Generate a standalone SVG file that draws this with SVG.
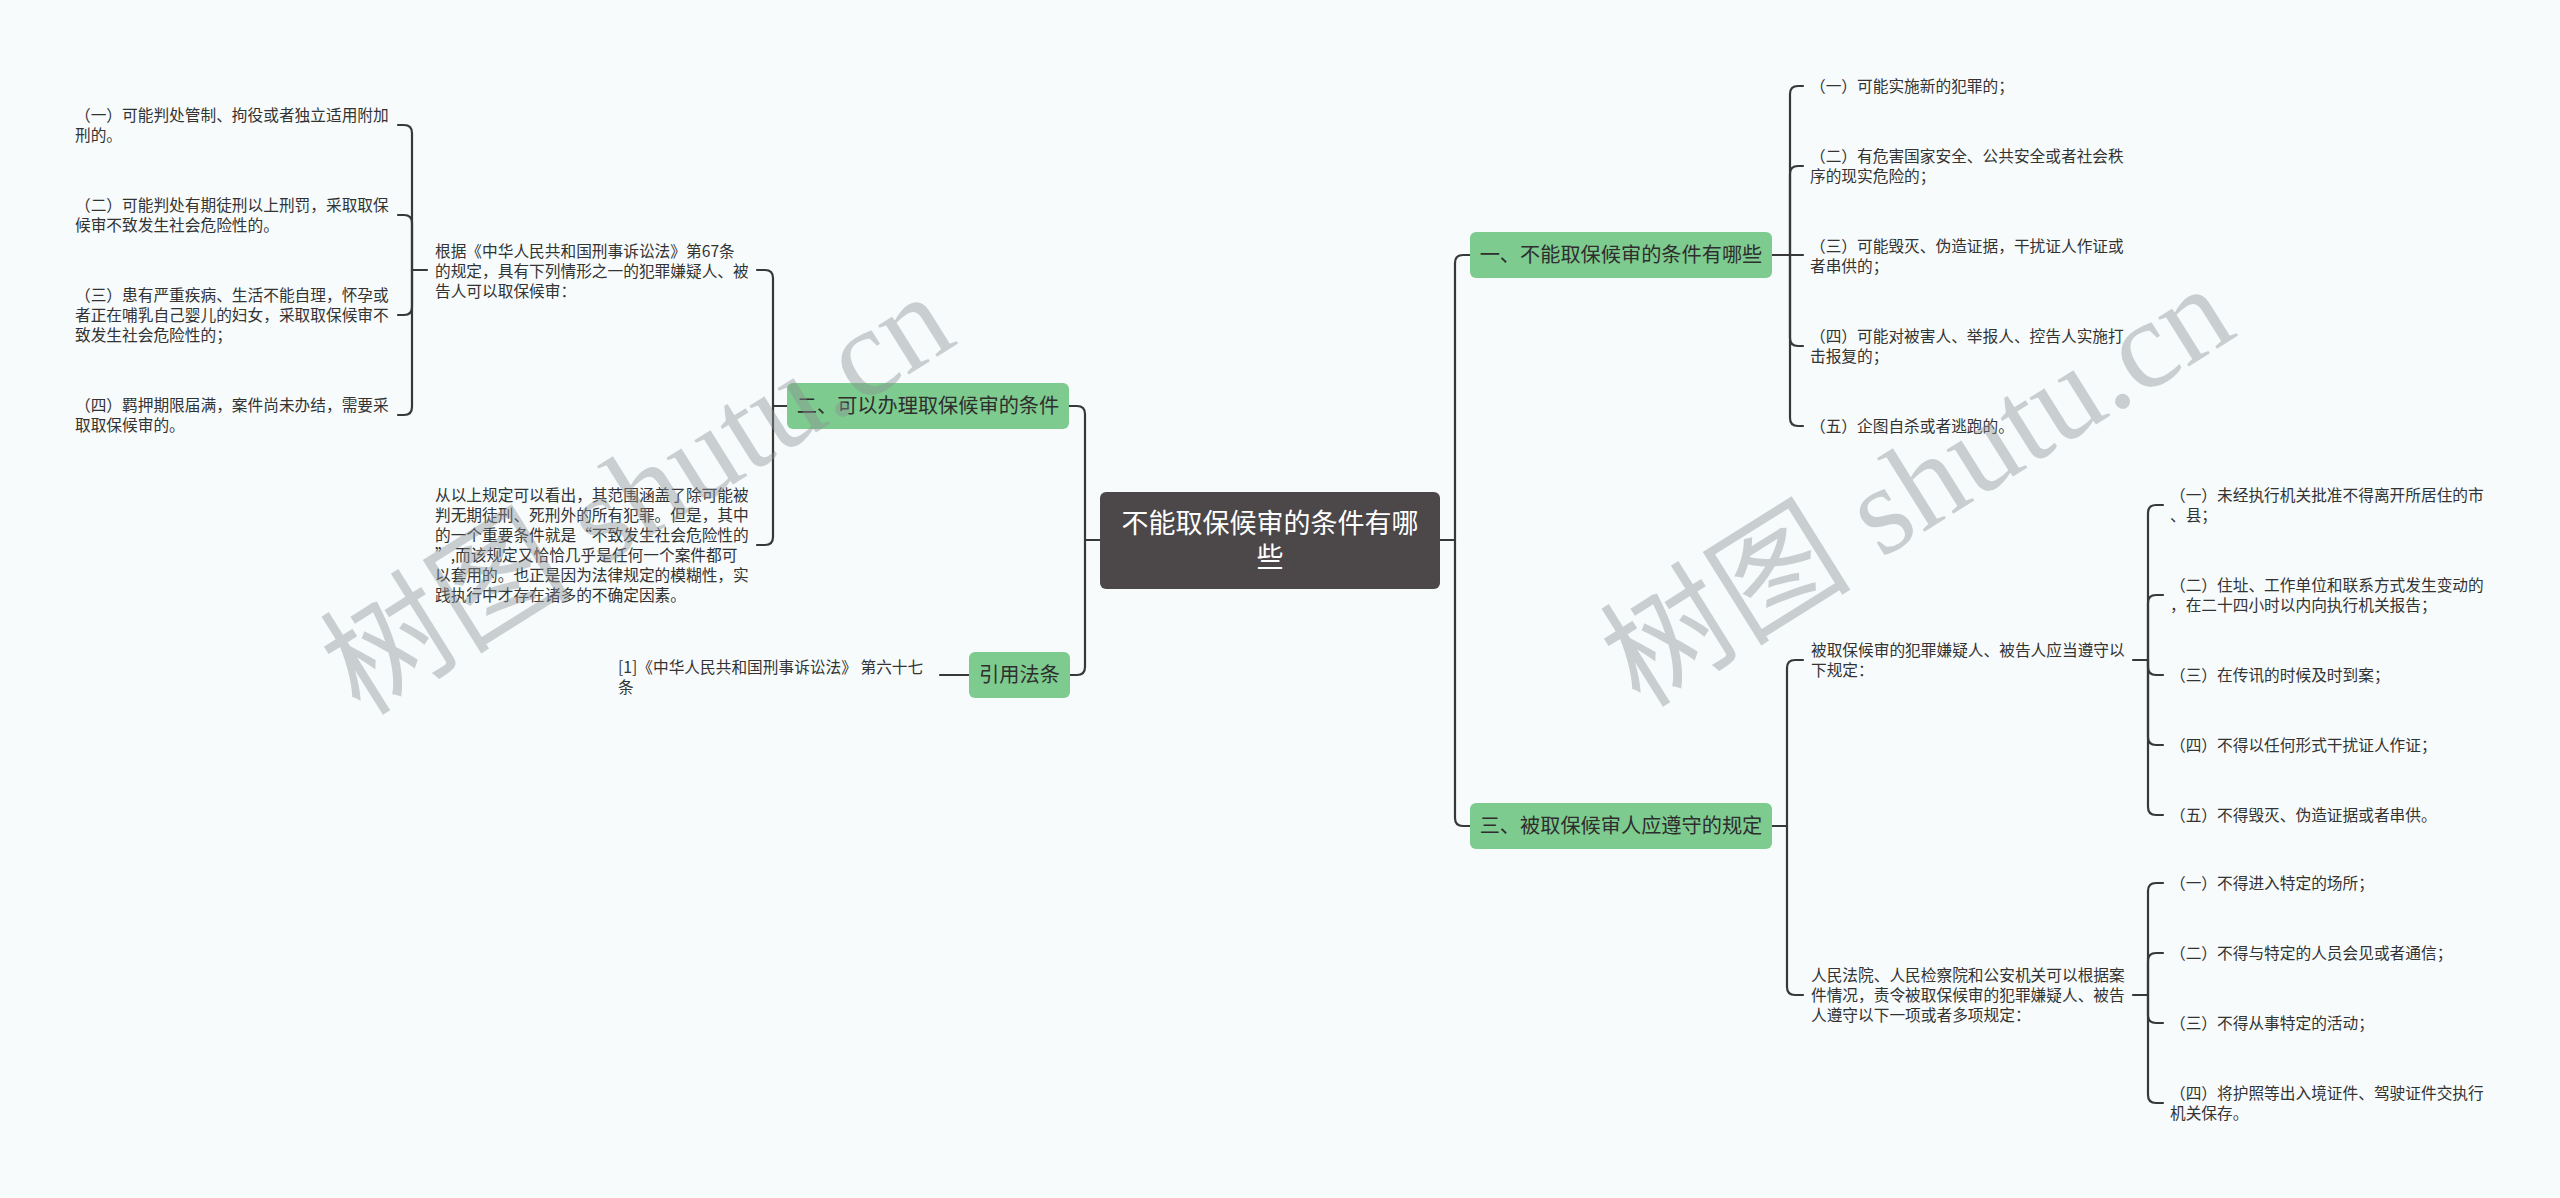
<svg xmlns="http://www.w3.org/2000/svg" width="2560" height="1198" viewBox="0 0 2560 1198">
<style>
.bg{fill:#f7fbfc}
.t{font-family:"Noto Sans CJK SC","Noto Sans",sans-serif;font-size:15.7px;fill:#333}
.g rect{fill:#7ecb8f}
.g text{font-family:"Noto Sans CJK SC","Noto Sans",sans-serif;font-size:20.2px;fill:#2e2e2e;text-anchor:middle}
.root rect{fill:#4c4748}
.root text{font-family:"Noto Sans CJK SC","Noto Sans",sans-serif;font-size:27px;fill:#ffffff;text-anchor:middle}
#connectors path{fill:none;stroke:#383838;stroke-width:2.2;stroke-linecap:round}
.wm{font-family:"Liberation Serif","Noto Sans CJK SC",serif;font-size:126px;fill:#8a9094;fill-opacity:0.42;text-anchor:middle}
</style>
<rect class="bg" x="0" y="0" width="2560" height="1198"/>
<g id="connectors">
<path d="M1100,540 H1085"/>
<path d="M1085,540 V414 Q1085,406 1077,406 H1069"/>
<path d="M1085,540 V667 Q1085,675 1077,675 H1070"/>
<path d="M787,406 H773"/>
<path d="M773,406 V278 Q773,270 765,270 H757"/>
<path d="M773,406 V537 Q773,545 765,545 H757"/>
<path d="M427,270 H412"/>
<path d="M412,270 V133 Q412,125 404,125 H398"/>
<path d="M412,270 V223 Q412,215 404,215 H398"/>
<path d="M412,270 V307 Q412,315 404,315 H398"/>
<path d="M412,270 V407 Q412,415 404,415 H398"/>
<path d="M969,675 H940"/>
<path d="M1440,540 H1455"/>
<path d="M1455,540 V263 Q1455,255 1463,255 H1470"/>
<path d="M1455,540 V818 Q1455,826 1463,826 H1470"/>
<path d="M1772,255 H1790"/>
<path d="M1790,255 V94 Q1790,86 1798,86 H1803"/>
<path d="M1790,255 V174 Q1790,166 1798,166 H1803"/>
<path d="M1790,255 H1803"/>
<path d="M1790,255 V338 Q1790,346 1798,346 H1803"/>
<path d="M1790,255 V418 Q1790,426 1798,426 H1803"/>
<path d="M1772,826 H1787"/>
<path d="M1787,826 V668 Q1787,660 1795,660 H1803"/>
<path d="M1787,826 V987 Q1787,995 1795,995 H1803"/>
<path d="M2133,660 H2148"/>
<path d="M2148,660 V513 Q2148,505 2156,505 H2163"/>
<path d="M2148,660 V603 Q2148,595 2156,595 H2163"/>
<path d="M2148,660 V667 Q2148,675 2156,675 H2163"/>
<path d="M2148,660 V737 Q2148,745 2156,745 H2163"/>
<path d="M2148,660 V807 Q2148,815 2156,815 H2163"/>
<path d="M2133,995 H2148"/>
<path d="M2148,995 V891 Q2148,883 2156,883 H2163"/>
<path d="M2148,995 V961 Q2148,953 2156,953 H2163"/>
<path d="M2148,995 V1015 Q2148,1023 2156,1023 H2163"/>
<path d="M2148,995 V1095 Q2148,1103 2156,1103 H2163"/>
</g>
<g id="node-root" class="root">
<rect x="1100" y="492" width="340" height="97" rx="6"/>
<text x="1270" y="533">不能取保候审的条件有哪</text>
<text x="1270" y="567">些</text>
</g>
<g id="node-1" class="g">
<rect x="1470" y="232" width="302" height="46" rx="6"/>
<text x="1621" y="262">一、不能取保候审的条件有哪些</text>
</g>
<g id="node-2" class="g">
<rect x="787" y="383" width="282" height="46" rx="6"/>
<text x="928" y="413">二、可以办理取保候审的条件</text>
</g>
<g id="node-3" class="g">
<rect x="1470" y="803" width="302" height="46" rx="6"/>
<text x="1621" y="833">三、被取保候审人应遵守的规定</text>
</g>
<g id="node-cite" class="g">
<rect x="969" y="652" width="101" height="46" rx="6"/>
<text x="1019.5" y="682">引用法条</text>
</g>
<g id="node-2-1">
<text class="t"><tspan x="435" y="257">根据《中华人民共和国刑事诉讼法》第67条</tspan><tspan x="435" y="277">的规定，具有下列情形之一的犯罪嫌疑人、被</tspan><tspan x="435" y="297">告人可以取保候审：</tspan></text>
</g>
<g id="node-2-1-1">
<text class="t"><tspan x="75" y="121">（一）可能判处管制、拘役或者独立适用附加</tspan><tspan x="75" y="141">刑的。</tspan></text>
</g>
<g id="node-2-1-2">
<text class="t"><tspan x="75" y="211">（二）可能判处有期徒刑以上刑罚，采取取保</tspan><tspan x="75" y="231">候审不致发生社会危险性的。</tspan></text>
</g>
<g id="node-2-1-3">
<text class="t"><tspan x="75" y="301">（三）患有严重疾病、生活不能自理，怀孕或</tspan><tspan x="75" y="321">者正在哺乳自己婴儿的妇女，采取取保候审不</tspan><tspan x="75" y="341">致发生社会危险性的；</tspan></text>
</g>
<g id="node-2-1-4">
<text class="t"><tspan x="75" y="411">（四）羁押期限届满，案件尚未办结，需要采</tspan><tspan x="75" y="431">取取保候审的。</tspan></text>
</g>
<g id="node-2-2">
<text class="t"><tspan x="435" y="501">从以上规定可以看出，其范围涵盖了除可能被</tspan><tspan x="435" y="521">判无期徒刑、死刑外的所有犯罪。但是，其中</tspan><tspan x="435" y="541">的一个重要条件就是“不致发生社会危险性的</tspan><tspan x="435" y="561">”,而该规定又恰恰几乎是任何一个案件都可</tspan><tspan x="435" y="581">以套用的。也正是因为法律规定的模糊性，实</tspan><tspan x="435" y="601">践执行中才存在诸多的不确定因素。</tspan></text>
</g>
<g id="node-cite-1">
<text class="t"><tspan x="618" y="673">[1]《中华人民共和国刑事诉讼法》 第六十七</tspan><tspan x="618" y="693">条</tspan></text>
</g>
<g id="node-1-1"><text class="t"><tspan x="1810" y="92">（一）可能实施新的犯罪的；</tspan></text></g>
<g id="node-1-2"><text class="t"><tspan x="1810" y="162">（二）有危害国家安全、公共安全或者社会秩</tspan><tspan x="1810" y="182">序的现实危险的；</tspan></text></g>
<g id="node-1-3"><text class="t"><tspan x="1810" y="252">（三）可能毁灭、伪造证据，干扰证人作证或</tspan><tspan x="1810" y="272">者串供的；</tspan></text></g>
<g id="node-1-4"><text class="t"><tspan x="1810" y="342">（四）可能对被害人、举报人、控告人实施打</tspan><tspan x="1810" y="362">击报复的；</tspan></text></g>
<g id="node-1-5"><text class="t"><tspan x="1810" y="432">（五）企图自杀或者逃跑的。</tspan></text></g>
<g id="node-3-1"><text class="t"><tspan x="1811" y="656">被取保候审的犯罪嫌疑人、被告人应当遵守以</tspan><tspan x="1811" y="676">下规定：</tspan></text></g>
<g id="node-3-1-1"><text class="t"><tspan x="2170" y="501">（一）未经执行机关批准不得离开所居住的市</tspan><tspan x="2170" y="521">、县；</tspan></text></g>
<g id="node-3-1-2"><text class="t"><tspan x="2170" y="591">（二）住址、工作单位和联系方式发生变动的</tspan><tspan x="2170" y="611">，在二十四小时以内向执行机关报告；</tspan></text></g>
<g id="node-3-1-3"><text class="t"><tspan x="2170" y="681">（三）在传讯的时候及时到案；</tspan></text></g>
<g id="node-3-1-4"><text class="t"><tspan x="2170" y="751">（四）不得以任何形式干扰证人作证；</tspan></text></g>
<g id="node-3-1-5"><text class="t"><tspan x="2170" y="821">（五）不得毁灭、伪造证据或者串供。</tspan></text></g>
<g id="node-3-2"><text class="t"><tspan x="1811" y="981">人民法院、人民检察院和公安机关可以根据案</tspan><tspan x="1811" y="1001">件情况，责令被取保候审的犯罪嫌疑人、被告</tspan><tspan x="1811" y="1021">人遵守以下一项或者多项规定：</tspan></text></g>
<g id="node-3-2-1"><text class="t"><tspan x="2170" y="889">（一）不得进入特定的场所；</tspan></text></g>
<g id="node-3-2-2"><text class="t"><tspan x="2170" y="959">（二）不得与特定的人员会见或者通信；</tspan></text></g>
<g id="node-3-2-3"><text class="t"><tspan x="2170" y="1029">（三）不得从事特定的活动；</tspan></text></g>
<g id="node-3-2-4"><text class="t"><tspan x="2170" y="1099">（四）将护照等出入境证件、驾驶证件交执行</tspan><tspan x="2170" y="1119">机关保存。</tspan></text></g>
<g id="watermarks">
<text class="wm" x="660" y="530" transform="rotate(-32 660 530)">树图 shutu.cn</text>
<text class="wm" x="1940" y="522" transform="rotate(-32 1940 522)">树图 shutu.cn</text>
</g>
</svg>
